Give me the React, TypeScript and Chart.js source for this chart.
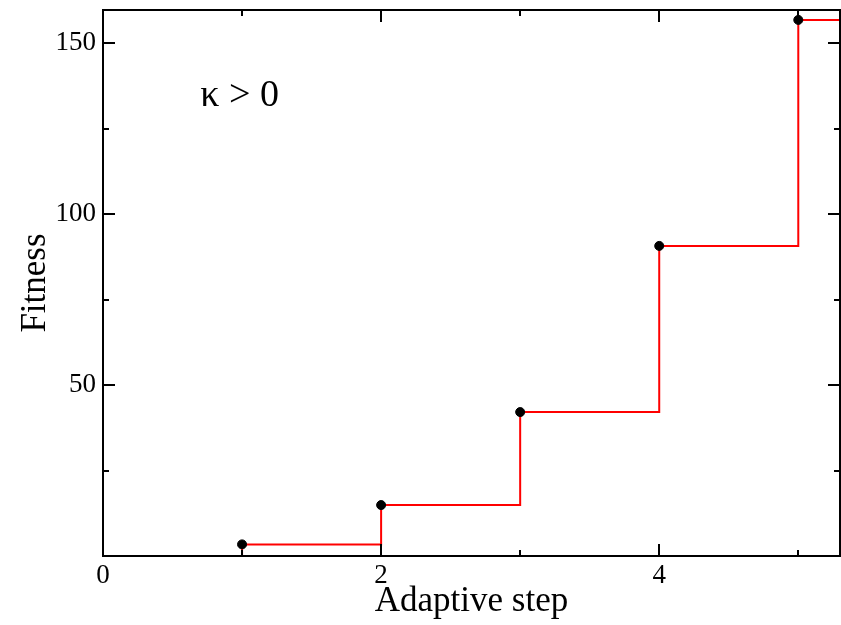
import React, { useEffect, useRef } from "react";
import { Chart, registerables } from "chart.js";

Chart.register(...registerables);

// Data
const adaptiveSteps = [1, 2, 3, 4, 5];
const fitness = [3.4, 14.9, 42.1, 90.7, 156.8];
const startPoint = { x: 0, y: 0 };

// Axis settings
const xMin = 0;
const xMax = 5.3;
const yMin = 0;
const yMax = 159.7;
const xMajorTicks = [0, 2, 4];
const xMinorTicks = [1, 3, 5];
const yMajorTicks = [50, 100, 150];
const yMinorTicks = [25, 75, 125];

const xTitle = "Adaptive step";
const yTitle = "Fitness";
const annotationText = "κ > 0";
const annotationPos = { x: 0.7, y: 131.5 };

const FONT = "'Liberation Serif', 'Times New Roman', serif";

const framePlugin = {
  id: "frameTicks",
  afterDatasetsDraw(chart: any) {
    const { ctx, chartArea, scales } = chart;
    const xs = scales.x;
    const ys = scales.y;
    const { left, right, top, bottom } = chartArea;
    ctx.save();
    ctx.strokeStyle = "#000";
    ctx.lineWidth = 2;
    ctx.beginPath();
    ctx.rect(left, top, right - left, bottom - top);
    ctx.stroke();
    const drawX = (vals: number[], len: number) => {
      vals.forEach((v) => {
        const px = Math.round(xs.getPixelForValue(v));
        ctx.beginPath();
        ctx.moveTo(px, bottom);
        ctx.lineTo(px, bottom - len);
        ctx.moveTo(px, top);
        ctx.lineTo(px, top + len);
        ctx.stroke();
      });
    };
    const drawY = (vals: number[], len: number) => {
      vals.forEach((v) => {
        const py = Math.round(ys.getPixelForValue(v));
        ctx.beginPath();
        ctx.moveTo(left, py);
        ctx.lineTo(left + len, py);
        ctx.moveTo(right, py);
        ctx.lineTo(right - len, py);
        ctx.stroke();
      });
    };
    drawX(xMajorTicks, 12);
    drawX(xMinorTicks, 6);
    drawY(yMajorTicks, 12);
    drawY(yMinorTicks, 6);

    // annotation text
    ctx.fillStyle = "#000";
    ctx.font = `38px ${FONT}`;
    ctx.textAlign = "left";
    ctx.textBaseline = "alphabetic";
    ctx.fillText(
      annotationText,
      xs.getPixelForValue(annotationPos.x),
      ys.getPixelForValue(annotationPos.y)
    );
    ctx.restore();
  },
};

export default function App() {
  const canvasRef = useRef<HTMLCanvasElement | null>(null);

  useEffect(() => {
    document.body.style.margin = "0";
    const canvas = canvasRef.current;
    if (!canvas) return;

    const last = fitness[fitness.length - 1];
    const stepData = [
      startPoint,
      ...adaptiveSteps.map((s, i) => ({ x: s, y: fitness[i] })),
      { x: xMax + 1, y: last },
    ];
    const pointData = adaptiveSteps.map((s, i) => ({ x: s, y: fitness[i] }));

    const chart = new Chart(canvas, {
      type: "scatter",
      data: {
        datasets: [
          {
            type: "scatter",
            data: pointData,
            backgroundColor: "#000",
            borderColor: "#000",
            pointRadius: 4.5,
            showLine: false,
            order: 0,
          } as any,
          {
            type: "line",
            data: stepData,
            borderColor: "#ff0000",
            borderWidth: 2,
            stepped: "before",
            pointRadius: 0,
            fill: false,
            order: 1,
          } as any,
        ],
      },
      options: {
        responsive: false,
        animation: false,
        devicePixelRatio: 1,
        layout: { autoPadding: false, padding: { left: 0, right: 1, top: 10, bottom: 0 } },
        plugins: {
          legend: { display: false },
          tooltip: { enabled: false },
        },
        scales: {
          x: {
            type: "linear",
            min: xMin,
            max: xMax,
            grid: { display: false, drawTicks: false },
            border: { display: false },
            afterBuildTicks: (scale: any) => {
              scale.ticks = xMajorTicks.map((v) => ({ value: v }));
            },
            afterFit: (scale: any) => {
              scale.height = 69;
              scale.paddingLeft = 0;
              scale.paddingRight = 0;
            },
            ticks: {
              color: "#000",
              padding: 4,
              maxRotation: 0,
              font: { family: FONT, size: 27 },
              callback: (v: any) => String(v),
            },
            title: {
              display: true,
              text: xTitle,
              color: "#000",
              font: { family: FONT, size: 35 },
              padding: { top: 0, bottom: 2 },
            },
          },
          y: {
            type: "linear",
            min: yMin,
            max: yMax,
            grid: { display: false, drawTicks: false },
            border: { display: false },
            afterBuildTicks: (scale: any) => {
              scale.ticks = yMajorTicks.map((v) => ({ value: v }));
            },
            afterFit: (scale: any) => {
              scale.width = 103;
              scale.paddingTop = 0;
              scale.paddingBottom = 0;
            },
            ticks: {
              color: "#000",
              padding: 7,
              font: { family: FONT, size: 27 },
              callback: (v: any) => String(v),
            },
            title: {
              display: true,
              text: yTitle,
              color: "#000",
              font: { family: FONT, size: 35 },
              padding: { top: 15, bottom: 0 },
            },
          },
        },
      },
      plugins: [framePlugin],
    });

    return () => chart.destroy();
  }, []);

  return (
    <div style={{ width: 841, height: 625 }}>
      <canvas ref={canvasRef} width={841} height={625} style={{ display: "block" }} />
    </div>
  );
}
